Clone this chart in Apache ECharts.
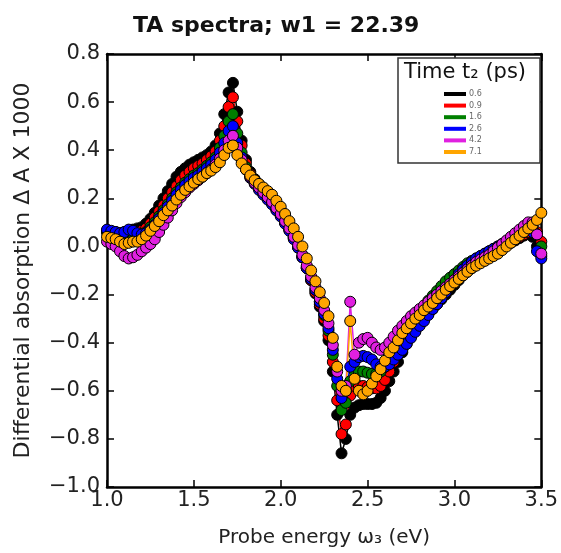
<!DOCTYPE html>
<html>
<head>
<meta charset="utf-8">
<script src="https://cdn.jsdelivr.net/npm/echarts@6/dist/echarts.min.js"></script>
<style>
  html, body { margin: 0; padding: 0; background: #fff; }
  #chart { width: 561px; height: 553px; }
</style>
</head>
<body>
<div id="chart"></div>
<script>
// Probe energy grid (eV)
const energy = [
  1.000,1.025,1.050,1.075,1.100,1.125,1.150,1.175,1.200,1.225,
  1.250,1.275,1.300,1.325,1.350,1.375,1.400,1.425,1.450,1.475,
  1.500,1.525,1.550,1.575,1.600,1.625,1.650,1.675,1.700,1.725,
  1.750,1.775,1.800,1.825,1.850,1.875,1.900,1.925,1.950,1.975,
  2.000,2.025,2.050,2.075,2.100,2.125,2.150,2.175,2.200,2.225,
  2.250,2.275,2.300,2.325,2.350,2.375,2.400,2.425,2.450,2.475,
  2.500,2.525,2.550,2.575,2.600,2.625,2.650,2.675,2.700,2.725,
  2.750,2.775,2.800,2.825,2.850,2.875,2.900,2.925,2.950,2.975,
  3.000,3.025,3.050,3.075,3.100,3.125,3.150,3.175,3.200,3.225,
  3.250,3.275,3.300,3.325,3.350,3.375,3.400,3.425,3.450,3.475,3.500
];
const timeLabels = ['0.6','0.9','1.6','2.6','4.2','7.1'];
const colors = ['#000000','#ff0000','#008000','#0000ff','#e020e0','#ffa500'];

const t0_6 = [
  0.065,0.06,0.06,0.055,0.06,0.065,0.07,0.075,0.08,0.095,
  0.115,0.14,0.17,0.2,0.23,0.26,0.29,0.31,0.325,0.34,
  0.35,0.36,0.37,0.38,0.395,0.42,0.47,0.55,0.64,0.68,
  0.56,0.44,0.36,0.31,0.28,0.258,0.236,0.215,0.19,0.165,
  0.14,0.11,0.075,0.04,0.0,-0.045,-0.09,-0.14,-0.195,-0.25,
  -0.31,-0.39,-0.52,-0.7,-0.86,-0.8,-0.7,-0.67,-0.66,-0.655,
  -0.655,-0.655,-0.65,-0.63,-0.6,-0.56,-0.52,-0.48,-0.44,-0.405,
  -0.375,-0.35,-0.325,-0.3,-0.28,-0.26,-0.24,-0.22,-0.2,-0.18,
  -0.16,-0.14,-0.12,-0.105,-0.09,-0.075,-0.06,-0.045,-0.035,-0.025,
  -0.015,-0.005,0.005,0.015,0.025,0.035,0.045,0.055,0.04,0.0,-0.04
];
const t0_9 = [
  0.06,0.06,0.055,0.05,0.05,0.055,0.06,0.06,0.065,0.075,
  0.095,0.12,0.145,0.17,0.2,0.225,0.25,0.275,0.295,0.31,
  0.325,0.335,0.345,0.36,0.375,0.395,0.44,0.5,0.58,0.62,
  0.52,0.42,0.345,0.3,0.27,0.248,0.226,0.205,0.18,0.155,
  0.13,0.1,0.07,0.035,-0.005,-0.045,-0.09,-0.14,-0.19,-0.24,
  -0.3,-0.37,-0.48,-0.64,-0.78,-0.74,-0.62,-0.58,-0.58,-0.58,
  -0.585,-0.59,-0.59,-0.58,-0.555,-0.52,-0.48,-0.445,-0.41,-0.38,
  -0.355,-0.33,-0.305,-0.285,-0.265,-0.245,-0.225,-0.205,-0.185,-0.165,
  -0.145,-0.125,-0.11,-0.095,-0.08,-0.065,-0.05,-0.04,-0.03,-0.02,
  -0.01,0.0,0.01,0.02,0.03,0.04,0.05,0.06,0.07,0.06,0.02
];
const t1_6 = [
  0.06,0.055,0.05,0.05,0.055,0.06,0.055,0.05,0.05,0.06,
  0.08,0.1,0.125,0.15,0.175,0.2,0.225,0.245,0.265,0.28,
  0.295,0.305,0.32,0.335,0.35,0.37,0.41,0.46,0.52,0.55,
  0.47,0.39,0.33,0.292,0.266,0.242,0.22,0.2,0.18,0.155,
  0.13,0.1,0.07,0.035,0.0,-0.04,-0.085,-0.13,-0.18,-0.23,
  -0.285,-0.35,-0.45,-0.58,-0.68,-0.65,-0.56,-0.52,-0.52,-0.52,
  -0.525,-0.53,-0.53,-0.52,-0.5,-0.47,-0.445,-0.42,-0.395,-0.365,
  -0.33,-0.3,-0.27,-0.25,-0.225,-0.205,-0.185,-0.165,-0.145,-0.13,
  -0.115,-0.1,-0.085,-0.07,-0.06,-0.05,-0.04,-0.03,-0.02,-0.01,
  0.0,0.01,0.02,0.03,0.04,0.05,0.06,0.07,0.075,0.05,0.0
];
const t2_6 = [
  0.07,0.065,0.06,0.055,0.06,0.07,0.065,0.055,0.05,0.055,
  0.07,0.09,0.115,0.14,0.165,0.19,0.215,0.235,0.255,0.27,
  0.285,0.295,0.31,0.325,0.34,0.36,0.39,0.43,0.48,0.5,
  0.43,0.37,0.32,0.285,0.26,0.235,0.215,0.195,0.175,0.15,
  0.125,0.095,0.065,0.03,-0.005,-0.045,-0.09,-0.135,-0.18,-0.23,
  -0.28,-0.34,-0.43,-0.55,-0.63,-0.6,-0.5,-0.48,-0.46,-0.455,
  -0.46,-0.47,-0.49,-0.5,-0.5,-0.49,-0.47,-0.45,-0.43,-0.405,
  -0.38,-0.355,-0.33,-0.31,-0.285,-0.26,-0.24,-0.215,-0.19,-0.165,
  -0.14,-0.115,-0.095,-0.08,-0.065,-0.05,-0.04,-0.03,-0.02,-0.01,
  0.0,0.01,0.02,0.03,0.04,0.05,0.06,0.07,0.06,-0.02,-0.05
];
const t4_2 = [
  0.02,0.01,0.0,-0.02,-0.04,-0.05,-0.045,-0.035,-0.02,-0.005,
  0.01,0.03,0.06,0.09,0.12,0.15,0.18,0.205,0.225,0.245,
  0.26,0.275,0.29,0.305,0.32,0.34,0.365,0.4,0.44,0.46,
  0.41,0.36,0.32,0.29,0.265,0.245,0.225,0.205,0.185,0.16,
  0.135,0.105,0.075,0.04,0.005,-0.035,-0.08,-0.125,-0.17,-0.215,
  -0.265,-0.32,-0.41,-0.52,-0.6,-0.58,-0.23,-0.45,-0.4,-0.385,
  -0.38,-0.4,-0.42,-0.43,-0.42,-0.4,-0.375,-0.35,-0.33,-0.31,
  -0.29,-0.275,-0.26,-0.245,-0.23,-0.215,-0.2,-0.185,-0.17,-0.155,
  -0.14,-0.125,-0.11,-0.095,-0.08,-0.065,-0.055,-0.045,-0.035,-0.02,
  -0.005,0.01,0.025,0.04,0.055,0.07,0.085,0.1,0.1,0.05,-0.03
];
const t7_1 = [
  0.04,0.035,0.03,0.02,0.01,0.015,0.02,0.02,0.03,0.045,
  0.065,0.085,0.105,0.13,0.15,0.17,0.195,0.215,0.235,0.25,
  0.265,0.28,0.29,0.305,0.315,0.33,0.35,0.38,0.41,0.42,
  0.38,0.345,0.32,0.295,0.275,0.26,0.245,0.23,0.215,0.19,
  0.165,0.135,0.105,0.075,0.04,0.0,-0.05,-0.1,-0.145,-0.19,
  -0.235,-0.29,-0.38,-0.5,-0.58,-0.6,-0.31,-0.55,-0.6,-0.615,
  -0.6,-0.57,-0.54,-0.51,-0.475,-0.44,-0.42,-0.39,-0.36,-0.34,
  -0.32,-0.3,-0.285,-0.265,-0.25,-0.235,-0.215,-0.2,-0.18,-0.165,
  -0.15,-0.135,-0.12,-0.105,-0.09,-0.08,-0.07,-0.06,-0.05,-0.04,
  -0.03,-0.015,0.0,0.015,0.03,0.045,0.06,0.075,0.09,0.11,0.14
];
const seriesValues = [t0_6, t0_9, t1_6, t2_6, t4_2, t7_1];

const xTicks = [1.0, 1.5, 2.0, 2.5, 3.0, 3.5];
const yTicks = [-1.0, -0.8, -0.6, -0.4, -0.2, 0.0, 0.2, 0.4, 0.6, 0.8];

const FONT = 'DejaVu Sans';
const fmt = v => (v < 0 ? '\u2212' : '') + Math.abs(v).toFixed(1);

const chart = echarts.init(document.getElementById('chart'), null, {renderer: 'canvas'});

const axisLine = {show: true, onZero: false, lineStyle: {color: '#000', width: 2.5}};
const axisTick = {show: true, inside: true, length: 7, lineStyle: {color: '#000', width: 1.5}};

const series = seriesValues.map((vals, k) => ({
  name: timeLabels[k],
  type: 'line',
  xAxisIndex: 0,
  yAxisIndex: 0,
  data: energy.map((x, i) => [x, vals[i]]),
  symbol: 'circle',
  symbolSize: 11,
  showAllSymbol: true,
  lineStyle: {color: colors[k], width: 1.5},
  itemStyle: {color: colors[k], borderColor: '#000', borderWidth: 1},
  emphasis: {disabled: true},
  z: 2
}));

chart.setOption({
  animation: false,
  title: {
    text: 'TA spectra; w1 = 22.39',
    left: 128, top: 10,
    textStyle: {fontFamily: FONT, fontSize: 22, fontWeight: 'bold', color: '#111'}
  },
  grid: {left: 107, right: 19, top: 54, bottom: 59, containLabel: false},
  xAxis: [{
    type: 'value', min: 1.0, max: 3.5, interval: 0.5, position: 'bottom',
    axisLine, axisTick,
    splitLine: {show: false},
    axisLabel: {fontFamily: FONT, fontSize: 21, color: '#222', margin: 3,
      formatter: v => fmt(v)},
    name: 'Probe energy \u03c9\u2083 (eV)',
    nameLocation: 'middle', nameGap: 41,
    nameTextStyle: {fontFamily: FONT, fontSize: 20, color: '#222'}
  }, {
    type: 'value', min: 1.0, max: 3.5, interval: 0.5, position: 'top',
    axisLine, axisTick, splitLine: {show: false}, axisLabel: {show: false}
  }],
  yAxis: [{
    type: 'value', min: -1.0, max: 0.8, interval: 0.2, position: 'left',
    axisLine, axisTick,
    splitLine: {show: false},
    axisLabel: {fontFamily: FONT, fontSize: 21, color: '#222', margin: 7,
      formatter: v => fmt(v)},
    name: 'Differential absorption \u0394 A X 1000',
    nameLocation: 'middle', nameGap: 73, nameRotate: 90,
    nameTextStyle: {fontFamily: FONT, fontSize: 22, color: '#222'}
  }, {
    type: 'value', min: -1.0, max: 0.8, interval: 0.2, position: 'right',
    axisLine, axisTick, splitLine: {show: false}, axisLabel: {show: false}
  }],
  legend: {
    data: timeLabels.map((n) => ({name: n, icon: 'rect'})),
    orient: 'vertical',
    left: 444, top: 90,
    itemWidth: 22, itemHeight: 4, itemGap: 3.6,
    padding: 0,
    itemStyle: {borderWidth: 0},
    textStyle: {fontFamily: FONT, fontSize: 8, color: '#666', padding: [0,0,0,-2]},
    z: 101
  },
  graphic: [
    {type: 'rect', shape: {x: 398, y: 58, width: 142, height: 105},
     style: {fill: '#fff', stroke: '#333', lineWidth: 1.5}, z: 100},
    {type: 'text', x: 404, y: 62, z: 101,
     style: {text: 'Time t\u2082 (ps)', fontFamily: FONT, fontSize: 21, fill: '#111'}}
  ],
  series
});
</script>
</body>
</html>
